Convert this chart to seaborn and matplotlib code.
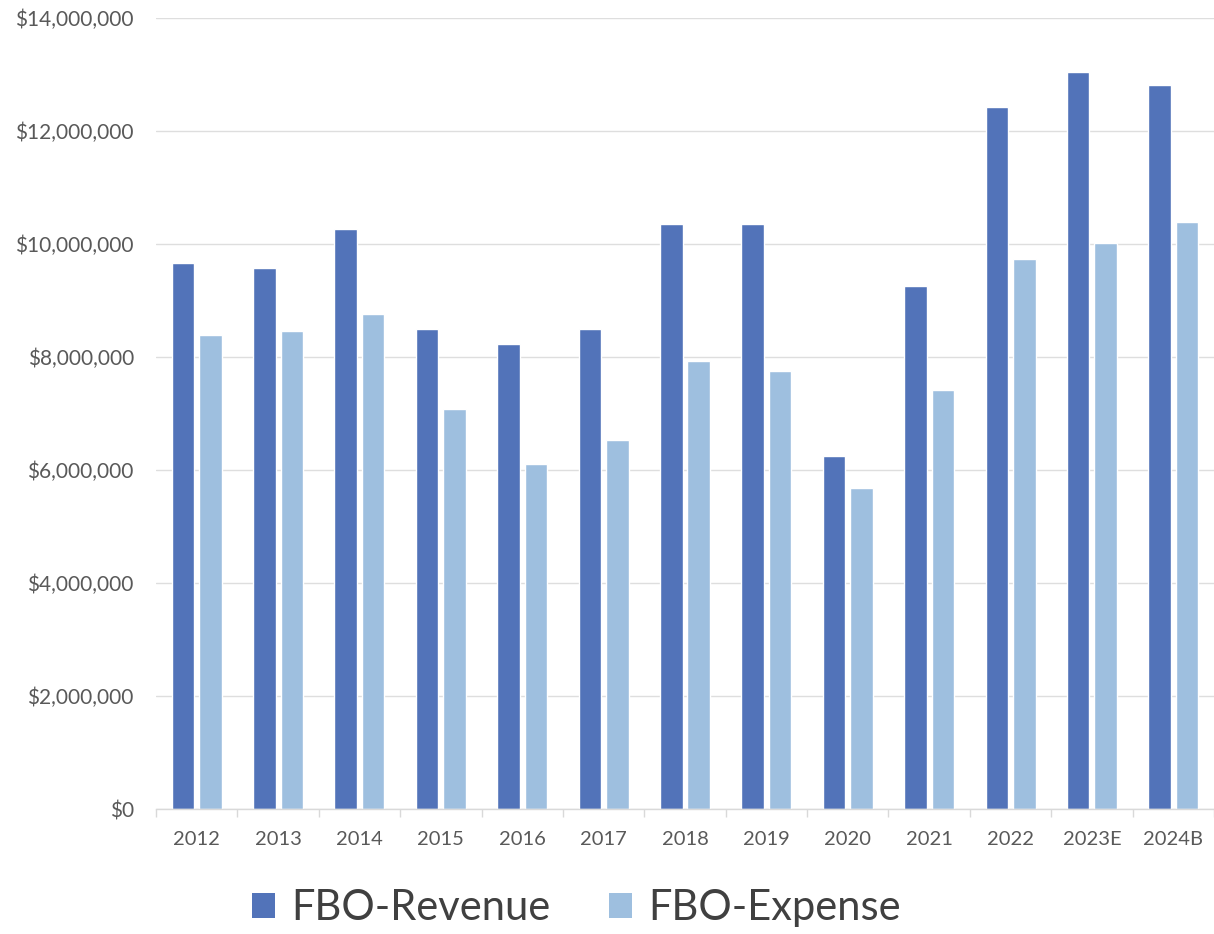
import pandas as pd
import matplotlib.pyplot as plt
import seaborn as sns
from matplotlib.patches import Patch
from matplotlib.ticker import FuncFormatter, FixedLocator

# Values
years = ["2012", "2013", "2014", "2015", "2016", "2017", "2018",
         "2019", "2020", "2021", "2022", "2023E", "2024B"]
revenue = [9660000, 9570000, 10270000, 8500000, 8230000, 8500000, 10360000,
           10360000, 6240000, 9250000, 12430000, 13040000, 12810000]
expense = [8390000, 8460000, 8770000, 7080000, 6100000, 6530000, 7930000,
           7760000, 5680000, 7420000, 9730000, 10010000, 10390000]
series = ["FBO-Revenue", "FBO-Expense"]
colors = ["#5273B9", "#9EBFDF"]

df = pd.DataFrame({
    "year": years * 2,
    "value": revenue + expense,
    "series": [series[0]] * len(years) + [series[1]] * len(years),
})

sns.set_style("white")
plt.rcParams["font.family"] = ["Lato", "DejaVu Sans"]

fig = plt.figure(figsize=(12.14, 9.34), dpi=100)
ax = fig.add_axes([0.1285, 0.1338, 0.8715, 0.8469])

sns.barplot(data=df, x="year", y="value", hue="series", order=years,
            hue_order=series, palette=colors, width=0.675, gap=0.18,
            saturation=1, legend=False, ax=ax)

ax.set_ylim(0, 14000000)
ax.set_xlim(-0.5, len(years) - 0.5)
ax.set_yticks(range(0, 14000001, 2000000))
ax.yaxis.set_major_formatter(FuncFormatter(lambda v, p: f"${v:,.0f}"))
ax.grid(axis="y", color="#DEDEDE", linewidth=1)
ax.set_axisbelow(True)
ax.set_xlabel("")
ax.set_ylabel("")

for side in ["top", "right", "left"]:
    ax.spines[side].set_visible(False)
ax.spines["bottom"].set_color("#D9D9D9")
ax.spines["bottom"].set_linewidth(1)

ax.tick_params(axis="y", length=0, pad=16, labelsize=15, labelcolor="#595959")
ax.tick_params(axis="x", which="major", length=0, pad=16, labelsize=14.5,
               labelcolor="#595959")
ax.xaxis.set_minor_locator(FixedLocator([i - 0.5 for i in range(len(years) + 1)]))
ax.tick_params(axis="x", which="minor", length=6, color="#D9D9D9", width=1,
               direction="out", bottom=True)

handles = [Patch(facecolor=c, edgecolor="none", label=s) for s, c in zip(series, colors)]
fig.legend(handles=handles, loc="center", bbox_to_anchor=(0.475, 0.028), ncol=2,
           frameon=False, fontsize=30, handlelength=0.55, handleheight=0.55,
           handletextpad=0.4, columnspacing=1.4, labelcolor="#404040")

plt.savefig("out.png", dpi=100)
